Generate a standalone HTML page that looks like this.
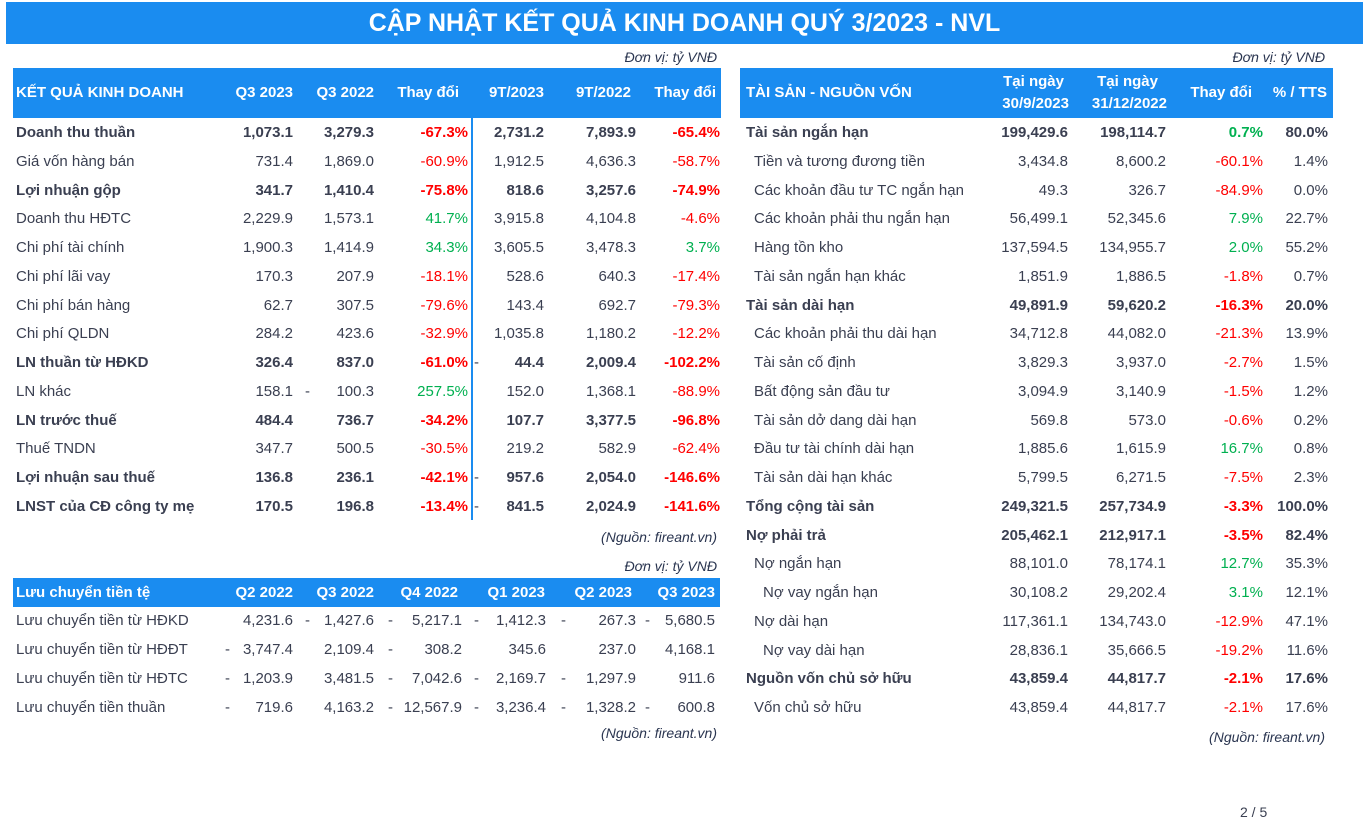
<!DOCTYPE html>
<html><head><meta charset="utf-8">
<style>
body{margin:0;width:1370px;height:831px;background:#fff;position:relative;overflow:hidden;font-family:"Liberation Sans",sans-serif;color:#3a3f51;font-size:15px}
.a{position:absolute;white-space:nowrap;line-height:18px}
.r{text-align:right}
.b{font-weight:bold}
.hd{position:absolute;background:#1a8cf0}
.w{color:#fff;font-weight:bold}
.red{color:#ff0000}.grn{color:#00b050}
.it{font-style:italic;color:#2a3550;font-size:14px}
</style></head><body>
<div class="hd" style="left:6px;top:2px;width:1357px;height:42px"></div>
<div class="a w" style="left:6px;width:1357px;top:8px;line-height:30px;font-size:25px;text-align:center">CẬP NHẬT KẾT QUẢ KINH DOANH QUÝ 3/2023 - NVL</div>

<div class="a it r" style="right:653px;top:48px">Đơn vị: tỷ VNĐ</div>
<div class="a it r" style="right:45px;top:48px">Đơn vị: tỷ VNĐ</div>
<div class="a it r" style="right:653px;top:528px">(Nguồn: fireant.vn)</div>
<div class="a it r" style="right:653px;top:557px">Đơn vị: tỷ VNĐ</div>
<div class="a it r" style="right:653px;top:724px">(Nguồn: fireant.vn)</div>
<div class="a it r" style="right:45px;top:728px">(Nguồn: fireant.vn)</div>
<div class="a" style="left:1240px;top:803px;font-size:14px">2 / 5</div>

<div class="hd" style="left:13px;top:68px;width:708px;height:50px"></div>
<div class="hd" style="left:740px;top:68px;width:593px;height:50px"></div>
<div class="hd" style="left:13px;top:578px;width:707px;height:29px"></div>
<div style="position:absolute;left:471px;top:68px;width:1.5px;height:452px;background:#1a8cf0"></div>
<div id="root"></div>
<script>
const incLabels=["Doanh thu thuần","Giá vốn hàng bán","Lợi nhuận gộp","Doanh thu HĐTC","Chi phí tài chính","Chi phí lãi vay","Chi phí bán hàng","Chi phí QLDN","LN thuần từ HĐKD","LN khác","LN trước thuế","Thuế TNDN","Lợi nhuận sau thuế","LNST của CĐ công ty mẹ"];
const incBold=[1,0,1,0,0,0,0,0,1,0,1,0,1,1];
const incQ3_23=["1,073.1","731.4","341.7","2,229.9","1,900.3","170.3","62.7","284.2","326.4","158.1","484.4","347.7","136.8","170.5"];
const incQ3_22=["3,279.3","1,869.0","1,410.4","1,573.1","1,414.9","207.9","307.5","423.6","837.0","100.3","736.7","500.5","236.1","196.8"];
const incChgQ=[-67.3,-60.9,-75.8,41.7,34.3,-18.1,-79.6,-32.9,-61.0,257.5,-34.2,-30.5,-42.1,-13.4];
const inc9T23=["2,731.2","1,912.5","818.6","3,915.8","3,605.5","528.6","143.4","1,035.8","44.4","152.0","107.7","219.2","957.6","841.5"];
const inc9T22=["7,893.9","4,636.3","3,257.6","4,104.8","3,478.3","640.3","692.7","1,180.2","2,009.4","1,368.1","3,377.5","582.9","2,054.0","2,024.9"];
const incChg9=[-65.4,-58.7,-74.9,-4.6,3.7,-17.4,-79.3,-12.2,-102.2,-88.9,-96.8,-62.4,-146.6,-141.6];
const incNeg22=[0,0,0,0,0,0,0,0,0,1,0,0,0,0];
const incNeg9=[0,0,0,0,0,0,0,0,1,0,0,0,1,1];

const cfLabels=["Lưu chuyển tiền từ HĐKD","Lưu chuyển tiền từ HĐĐT","Lưu chuyển tiền từ HĐTC","Lưu chuyển tiền thuần"];
const cfPeriods=["Q2 2022","Q3 2022","Q4 2022","Q1 2023","Q2 2023","Q3 2023"];
const cfValues=[[4231.6,-1427.6,-5217.1,-1412.3,-267.3,-5680.5],[-3747.4,2109.4,-308.2,345.6,237.0,4168.1],[-1203.9,3481.5,-7042.6,-2169.7,-1297.9,911.6],[-719.6,4163.2,-12567.9,-3236.4,-1328.2,-600.8]];

const bsLabels=["Tài sản ngắn hạn","Tiền và tương đương tiền","Các khoản đầu tư TC ngắn hạn","Các khoản phải thu ngắn hạn","Hàng tồn kho","Tài sản ngắn hạn khác","Tài sản dài hạn","Các khoản phải thu dài hạn","Tài sản cố định","Bất động sản đầu tư","Tài sản dở dang dài hạn","Đầu tư tài chính dài hạn","Tài sản dài hạn khác","Tổng cộng tài sản","Nợ phải trả","Nợ ngắn hạn","Nợ vay ngắn hạn","Nợ dài hạn","Nợ vay dài hạn","Nguồn vốn chủ sở hữu","Vốn chủ sở hữu"];
const bsLevel=[0,1,1,1,1,1,0,1,1,1,1,1,1,0,0,1,2,1,2,0,1];
const bsNow=[199429.6,3434.8,49.3,56499.1,137594.5,1851.9,49891.9,34712.8,3829.3,3094.9,569.8,1885.6,5799.5,249321.5,205462.1,88101.0,30108.2,117361.1,28836.1,43859.4,43859.4];
const bsPrev=[198114.7,8600.2,326.7,52345.6,134955.7,1886.5,59620.2,44082.0,3937.0,3140.9,573.0,1615.9,6271.5,257734.9,212917.1,78174.1,29202.4,134743.0,35666.5,44817.7,44817.7];
const bsChg=[0.7,-60.1,-84.9,7.9,2.0,-1.8,-16.3,-21.3,-2.7,-1.5,-0.6,16.7,-7.5,-3.3,-3.5,12.7,3.1,-12.9,-19.2,-2.1,-2.1];
const bsPct=[80.0,1.4,0.0,22.7,55.2,0.7,20.0,13.9,1.5,1.2,0.2,0.8,2.3,100.0,82.4,35.3,12.1,47.1,11.6,17.6,17.6];

const root=document.getElementById('root');
function fmt(v){return Math.abs(v).toLocaleString('en-US',{minimumFractionDigits:1,maximumFractionDigits:1});}
function txt(t,x,y,right,cls){const d=document.createElement('div');d.className='a '+(cls||'');d.textContent=t;d.style.top=(y-9)+'px';if(right){d.style.right=(1370-x)+'px';}else d.style.left=x+'px';root.appendChild(d);return d;}
function rowY(i){return 133+i*28.75;}
function pctCls(v){return v<0?'red':'grn';}

[["KẾT QUẢ KINH DOANH",16,0],["Q3 2023",293,1],["Q3 2022",374,1],["Thay đổi",459,1],["9T/2023",544,1],["9T/2022",631,1],["Thay đổi",716,1]].forEach(h=>{const e=txt(h[0],h[1],93,h[2],'w');

});
[["TÀI SẢN - NGUỒN VỐN",746,93,0],["Tại ngày",1064,82,1],["30/9/2023",1069,104,1],["Tại ngày",1158,82,1],["31/12/2022",1167,104,1],["Thay đổi",1252,93,1],["% / TTS",1327,93,1]].forEach(h=>{const e=txt(h[0],h[1],h[2],h[3],'w');

});
const cfHx=[293,374,458,545,632,715];
const cfTitle=txt("Lưu chuyển tiền tệ",16,593,0,'w');


cfPeriods.forEach((p,j)=>{const e=txt(p,cfHx[j],593,1,'w');

});

incLabels.forEach((l,i)=>{const y=rowY(i);const b=incBold[i]?'b':'';
const e=txt(l,16,y,0,b);


txt(incQ3_23[i],293,y,1,b);
txt(incQ3_22[i],374,y,1,b);
if(incNeg22[i])txt('-',305,y,0,'');
txt(incChgQ[i].toFixed(1)+'%',468,y,1,b+' '+pctCls(incChgQ[i]));
if(incNeg9[i])txt('-',474,y,0,'');
txt(inc9T23[i],544,y,1,b);
txt(inc9T22[i],636,y,1,b);
txt(incChg9[i].toFixed(1)+'%',720,y,1,b+' '+pctCls(incChg9[i]));
});

const cfVx=[293,374,462,546,636,715];
const cfDashX=[225,305,388,474,561,645];
cfLabels.forEach((l,i)=>{const y=621+i*29;
const e=txt(l,16,y,0,'');


cfValues[i].forEach((v,j)=>{txt(fmt(v),cfVx[j],y,1,'');if(v<0)txt('-',cfDashX[j],y,0,'');});
});

bsLabels.forEach((l,i)=>{const y=rowY(i);const b=bsLevel[i]==0?'b':'';
const x=[746,754,763][bsLevel[i]];
const e=txt(l,x,y,0,b);


txt(fmt(bsNow[i]),1068,y,1,b);
txt(fmt(bsPrev[i]),1166,y,1,b);
txt(bsChg[i].toFixed(1)+'%',1263,y,1,b+' '+pctCls(bsChg[i]));
txt(bsPct[i].toFixed(1)+'%',1328,y,1,b);
});
</script>
</body></html>
